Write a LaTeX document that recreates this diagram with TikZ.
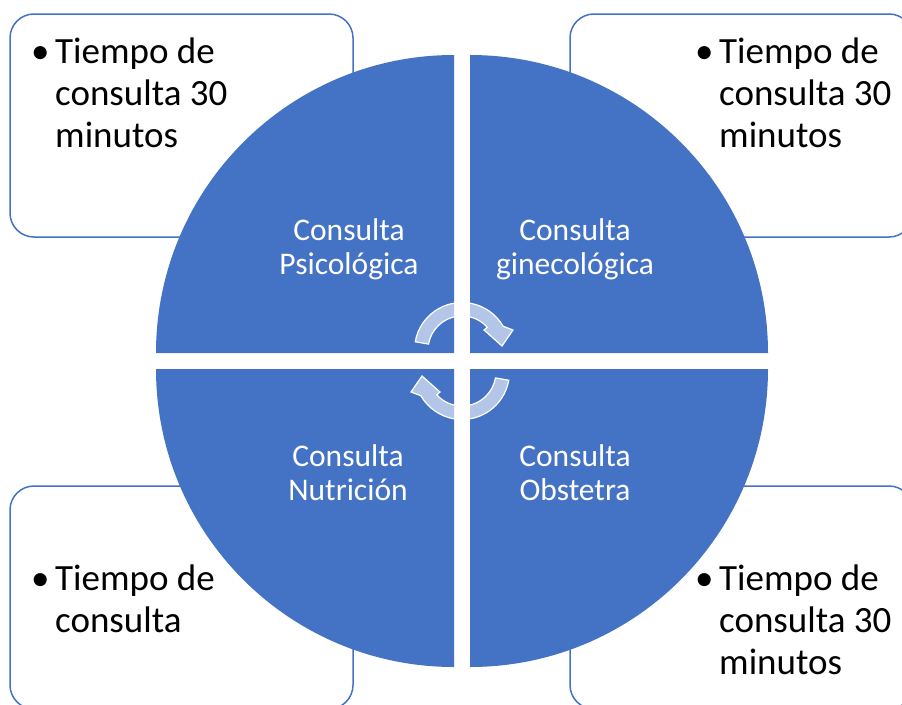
\documentclass[tikz,border=0pt]{standalone}
\usepackage{fontspec}
\setmainfont{Carlito}
\usepackage{xcolor}
\definecolor{quadblue}{HTML}{4472C4}

\begin{document}
\begin{tikzpicture}[
    x=1pt, y=-1pt,
    infobox/.style={draw=quadblue, line width=1.5pt, rounded corners=24pt, fill=white},
    quadrant/.style={fill=quadblue},
    quadlabel/.style={anchor=base, text=white, align=center, inner sep=0pt,
        font=\fontsize{31.5}{34}\selectfont},
    infotext/.style={anchor=base west, inner sep=0pt, font=\fontsize{37}{42}\selectfont},
    cyclearrow/.style={fill=white, fill opacity=0.6, draw=white, line width=1.2pt}
]
\useasboundingbox (0,0) rectangle (902,704);
\draw[infobox] ( 10, 14) rectangle (353,237);
\draw[infobox] (570, 14) rectangle (913,237);
\draw[infobox] ( 10,486) rectangle (353,709);
\draw[infobox] (570,486) rectangle (913,709);
\fill[quadrant] (454,353) -- (156,353) arc[start angle=180, end angle=270, radius=298] -- cycle;
\fill[quadrant] (470,353) -- (470, 55) arc[start angle=270, end angle=360, radius=298] -- cycle;
\fill[quadrant] (470,369) -- (768,369) arc[start angle=0,   end angle=90,  radius=298] -- cycle;
\fill[quadrant] (454,369) -- (454,667) arc[start angle=90,  end angle=180, radius=298] -- cycle;
\node[quadlabel] at (349,274) (psico)  {Consulta\\Psicológica};
\node[quadlabel] at (575,274) (gineco) {Consulta\\ginecológica};
\node[quadlabel] at (348,500) (nutri)  {Consulta\\Nutrición};
\node[quadlabel] at (575,500) (obste)  {Consulta\\Obstetra};
\node[infotext] at ( 31, 63) (tpsico)
    {\begin{tabular}[t]{@{}p{24pt}@{}l@{}}•&Tiempo de\\&consulta 30\\&minutos\end{tabular}};
\node[infotext] at (695, 63) (tgineco)
    {\begin{tabular}[t]{@{}p{24pt}@{}l@{}}•&Tiempo de\\&consulta 30\\&minutos\end{tabular}};
\node[infotext] at ( 31,590) (tnutri)
    {\begin{tabular}[t]{@{}p{24pt}@{}l@{}}•&Tiempo de\\&consulta\end{tabular}};
\node[infotext] at (695,590) (tobste)
    {\begin{tabular}[t]{@{}p{24pt}@{}l@{}}•&Tiempo de\\&consulta 30\\&minutos\end{tabular}};
\foreach \turn in {0,180} {
  \begin{scope}[rotate around={\turn:(462,361)}]
    \filldraw[cyclearrow] ([shift={(462,350)}]190:47.5)
        arc[start angle=190, end angle=330, radius=47.5]
        -- (513,330) -- (502,346) -- (484,330)
        -- ([shift={(462,350)}]318:34)
        arc[start angle=318, end angle=190, radius=34] -- cycle;
  \end{scope}
}
\end{tikzpicture}
\end{document}
